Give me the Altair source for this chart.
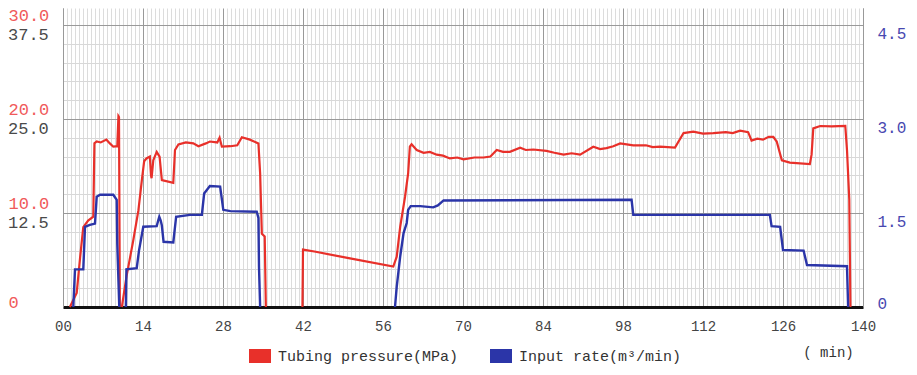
import altair as alt
import pandas as pd

# ---------------- data ----------------
# Tubing pressure (MPa), three pumping segments
p_seg1_t = [1.2, 2.4, 3.0, 3.55, 4.4, 5.3, 5.5, 5.9, 6.6, 7.6, 8.2, 8.8, 9.5, 9.7, 9.8, 9.95]
p_seg1_v = [0, 1.5, 5.3, 8.5, 9.2, 9.6, 17.4, 17.6, 17.5, 17.8, 17.4, 17.05, 17.1, 20.3, 20.2, 0]

p_seg2_t = [10.3, 11.1, 12.3, 13.2, 13.8, 14.2, 14.6, 15.2, 15.4, 15.5, 15.8, 16.4, 16.9, 17.3,
            19.3, 19.6, 20.2, 21.5, 22.8, 23.7, 25.0, 25.7, 27.0, 27.4, 27.8, 29.3, 30.5, 31.3,
            32.7, 34.2, 34.5, 34.8, 35.3, 35.5]
p_seg2_v = [0, 3.2, 7.1, 10.3, 13.5, 15.5, 15.8, 16.0, 14.0, 13.7, 15.6, 16.5, 16.0, 13.5,
            13.2, 16.7, 17.3, 17.5, 17.4, 17.1, 17.4, 17.6, 17.5, 18.0, 17.05, 17.1, 17.2, 18.05,
            17.8, 17.4, 14.2, 7.8, 7.5, 0]

p_seg3_t = [41.9, 42.0, 44.0, 50.0, 57.8, 58.4, 59.0, 59.85, 60.4, 60.7, 61.0, 61.9, 63.1, 64.2,
            65.4, 66.5, 67.7, 69.0, 70.1, 72.0, 73.6, 74.8, 75.9, 77.0, 78.2, 80.0, 81.0, 82.3,
            84.6, 86.0, 87.6, 89.0, 90.5, 92.8, 94.0, 95.1, 96.3, 97.5, 99.8, 102.0, 103.2, 104.5,
            107.1, 108.6, 110.3, 112.0, 113.8, 116.0, 117.2, 118.5, 119.9, 120.5, 121.5, 122.5,
            123.5, 124.3, 124.9, 125.8, 127.2, 130.7, 131.0, 131.3, 132.5, 134.5, 136.9, 137.2,
            137.6, 137.8]
p_seg3_v = [0, 6.1, 5.9, 5.2, 4.3, 5.35, 8.5, 11.7, 14.2, 17.05, 17.3, 16.7, 16.4, 16.5,
            16.2, 16.1, 15.8, 15.9, 15.7, 15.9, 15.9, 16.0, 16.7, 16.5, 16.5, 16.95, 16.7, 16.75,
            16.6, 16.4, 16.2, 16.35, 16.2, 17.05, 16.8, 16.9, 17.1, 17.4, 17.2, 17.2, 17.0, 17.05,
            16.95, 18.5, 18.65, 18.45, 18.5, 18.6, 18.5, 18.75, 18.6, 17.7, 17.9, 17.8,
            18.1, 18.1, 17.6, 15.6, 15.35, 15.2, 16.2, 19.0, 19.25, 19.2, 19.25, 16.7,
            11.4, 0]

# Input rate (m3/min)
r_seg1_t = [1.8, 2.1, 3.55, 3.85, 4.7, 5.6, 5.9, 6.5, 8.8, 9.4, 9.5, 9.85]
r_seg1_v = [0, 0.6, 0.6, 1.28, 1.31, 1.33, 1.76, 1.79, 1.79, 1.71, 1.0, 0]

r_seg2_t = [11.0, 11.1, 12.9, 13.3, 14.05, 16.4, 16.6, 16.85, 17.1, 17.3, 17.6, 19.3, 19.8, 22.2,
            24.3, 24.7, 25.7, 27.5, 28.05, 29.3, 33.9, 34.2, 34.3, 34.5]
r_seg2_v = [0, 0.6, 0.62, 0.9, 1.28, 1.29, 1.36, 1.44, 1.38, 1.3, 1.04, 1.03, 1.44, 1.47,
            1.47, 1.81, 1.93, 1.92, 1.55, 1.53, 1.52, 1.42, 0.64, 0]

r_seg3_t = [58.1, 58.4, 59.0, 59.6, 60.15, 60.4, 60.85, 62.5, 64.8, 65.6, 66.6, 99.5, 99.8,
            123.7, 124.0, 125.5, 126.0, 129.6, 130.2, 137.2, 137.4]
r_seg3_v = [0, 0.32, 0.8, 1.18, 1.34, 1.55, 1.61, 1.61, 1.59, 1.62, 1.70, 1.71, 1.47,
            1.47, 1.29, 1.28, 0.91, 0.90, 0.67, 0.65, 0]

series_names = ["Tubing pressure(MPa)", "Input rate(m\u00b3/min)"]
series_colors = ["#e8302a", "#2b35a8"]

x_minor = [round(i * 0.7, 1) for i in range(0, 201)]
p_minor = [i * 2 for i in range(0, 16)]
r_ticks = [0, 1.5, 3.0, 4.5]
casing_labels = [12.5, 25.0, 37.5]

P_MAX = 31.8
R_MAX = P_MAX * 0.15
C_MAX = P_MAX * 1.25

# ---------------- tables ----------------
def build(segs, name):
    rows = []
    for k, (ts, vs) in enumerate(segs):
        for t, v in zip(ts, vs):
            rows.append({"t": t, "v": v, "seg": k, "series": name})
    return pd.DataFrame(rows)

pres = build([(p_seg1_t, p_seg1_v), (p_seg2_t, p_seg2_v), (p_seg3_t, p_seg3_v)], series_names[0])
rate = build([(r_seg1_t, r_seg1_v), (r_seg2_t, r_seg2_v), (r_seg3_t, r_seg3_v)], series_names[1])
casing = pd.DataFrame({"c": casing_labels, "label": [f"{c:.1f}" for c in casing_labels]})

FONT = "Liberation Mono"

color_scale = alt.Scale(domain=series_names, range=series_colors)
legend = alt.Legend(
    title=None, orient="none", legendX=179, legendY=330, direction="horizontal",
    symbolType="M-1,0H1", symbolSize=484, symbolStrokeWidth=14,
    labelFont=FONT, labelFontSize=15, labelColor="#333", labelOffset=0, labelLimit=400,
    columnPadding=3,
)

x_enc = alt.X(
    "t:Q",
    scale=alt.Scale(domain=[0, 140], nice=False, zero=False),
    axis=alt.Axis(
        values=x_minor, tickCount=400, grid=True,
        gridColor={"condition": {"test": "datum.value % 14 == 0", "value": "#999999"}, "value": "#dcdcdc"},
        gridWidth=1, ticks=False, tickSize=0,
        labelExpr="datum.value % 14 == 0 ? (datum.value == 0 ? '00' : format(datum.value, 'd')) : ''",
        labelOverlap=False, labelFont=FONT, labelFontSize=14, labelColor="#444",
        labelPadding=12, labelFlush=False,
        domainColor="#111", domainWidth=3,
        title="( min)", titleFont=FONT, titleFontSize=14, titleFontWeight="normal",
        titleColor="#333", titleX=765, titleY=45, titleAlign="center", titleBaseline="middle",
    ),
)

pressure_line = alt.Chart(pres).mark_line(strokeWidth=2.2, interpolate="linear").encode(
    x=x_enc,
    y=alt.Y(
        "v:Q",
        scale=alt.Scale(domain=[0, P_MAX], nice=False),
        axis=alt.Axis(
            orient="left", values=p_minor, tickCount=100, grid=True,
            gridColor={"condition": {"test": "datum.value % 10 == 0", "value": "#999999"}, "value": "#d8d8d8"},
            ticks=False, tickSize=0,
            labelExpr="datum.value % 10 == 0 ? (datum.value == 0 ? '0' : format(datum.value, '.1f')) : ''",
            labelAlign="left", labelPadding=55,
            labelBaseline={"condition": {"test": "datum.value == 0", "value": "alphabetic"}, "value": "bottom"},
            labelOverlap=False, labelFont=FONT, labelFontSize=17, labelColor="#f05a5a",
            domainColor="#999999", title=None,
        ),
    ),
    color=alt.Color("series:N", scale=color_scale, legend=legend),
    detail="seg:N",
    order="t:Q",
)

rate_line = alt.Chart(rate).mark_line(strokeWidth=2.4, interpolate="linear").encode(
    x=alt.X("t:Q"),
    y=alt.Y(
        "v:Q",
        scale=alt.Scale(domain=[0, R_MAX], nice=False),
        axis=alt.Axis(
            orient="right", values=r_ticks, tickCount=10, grid=False, ticks=False, tickSize=0,
            labelExpr="datum.value == 0 ? '0' : format(datum.value, '.1f')",
            labelAlign="left", labelPadding=14,
            labelBaseline={"condition": {"test": "datum.value == 0", "value": "alphabetic"}, "value": "top"},
            labelOffset=1,
            labelOverlap=False, labelFont=FONT, labelFontSize=16, labelColor="#4848b0",
            domainColor="#999999", title=None,
        ),
    ),
    color=alt.Color("series:N", scale=color_scale, legend=legend),
    detail="seg:N",
    order="t:Q",
)

casing_text = alt.Chart(casing).mark_text(
    align="left", baseline="top", dy=2, font=FONT, fontSize=17, color="#4a4a4a"
).encode(
    x=alt.value(-55),
    y=alt.Y("c:Q", scale=alt.Scale(domain=[0, C_MAX], nice=False), axis=None),
    text="label:N",
)

chart = (
    alt.layer(pressure_line, rate_line, casing_text)
    .resolve_scale(y="independent")
    .properties(
        width=800, height=299,
        autosize=alt.AutoSizeParams(type="none"),
        padding={"left": 55, "top": 0, "right": 46, "bottom": 60},
        background="white",
    )
    .configure_view(stroke=None)
)

chart.save("out.html", embed_options={"renderer": "svg", "actions": False})
